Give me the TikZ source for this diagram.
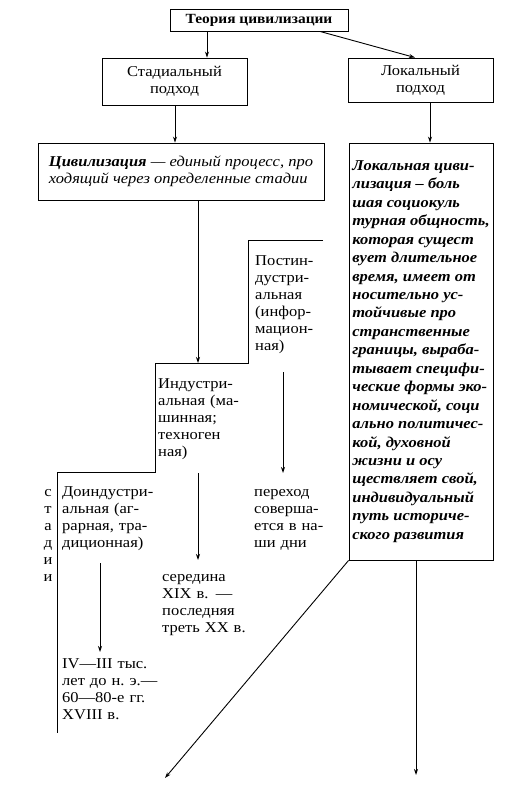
\documentclass[tikz,border=0pt]{standalone}
\usepackage{fontspec}
\setmainfont[FakeStretch=1.1]{Liberation Serif}
\usetikzlibrary{arrows.meta}

\newlength{\du}
\setlength{\du}{10\unitlength}

\tikzset{
  dbox/.style={draw=dialinecolor, line width=0.09\du, inner sep=0pt, align=center, font=\fontsize{15}{17}\selectfont},
  dtext/.style={anchor=base west, inner sep=0pt, text width=11\du, align=left, font=\fontsize{15}{17}\selectfont},
  dline/.style={draw=dialinecolor, line width=0.09\du},
  darrow/.style={dline, -{Stealth[length=6pt, width=4pt]}}
}

\begin{document}
\begin{tikzpicture}
\pgftransformxscale{1.000000}
\pgftransformyscale{-1.000000}
\definecolor{dialinecolor}{rgb}{0.000000, 0.000000, 0.000000}
\pgfsetstrokecolor{dialinecolor}
\useasboundingbox (0.000000\du,0.000000\du) rectangle (50.500000\du,79.000000\du);
\fill[white] (0.000000\du,0.000000\du) rectangle (50.500000\du,79.000000\du);
% boxes
\node[dbox, minimum width=17.8\du, minimum height=2.2\du, font=\fontsize{14}{16}\selectfont\bfseries] (theory) at (25.900000\du,2.000000\du){Теория цивилизации};
\node[dbox, minimum width=14.5\du, minimum height=4.7\du] (stadial) at (17.450000\du,8.150000\du){Стадиальный\\подход};
\node[dbox, minimum width=14.5\du, minimum height=4.4\du] (local) at (42.050000\du,8.000000\du){Локальный\\подход};
\node[dbox, minimum width=28.6\du, minimum height=5.7\du, align=left, font=\fontsize{15}{16.5}\selectfont\itshape] (civ) at (18.100000\du,17.150000\du){\textbf{Цивилизация} — единый процесс, про\\ходящий через определенные стадии};
\node[dbox, minimum width=14.4\du, minimum height=41.7\du, align=left, font=\fontsize{15}{18.45}\selectfont\bfseries\itshape] (lciv) at (42.100000\du,35.150000\du){Локальная циви-\\лизация – боль\\шая социокуль\\турная общность,\\которая сущест\\вует длительное\\время, имеет от\\носительно ус-\\тойчивые про\\странственные\\границы, выраба-\\тывает специфи-\\ческие формы эко-\\номической, соци\\ально политичес-\\кой, духовной\\жизни и осу\\ществляет свой,\\индивидуальный\\путь историче-\\ского развития};
% stages
\coordinate (s1) at (32.300000\du,24.000000\du);
\coordinate (s2) at (24.800000\du,24.000000\du);
\coordinate (s3) at (24.800000\du,36.300000\du);
\coordinate (s4) at (15.500000\du,36.300000\du);
\coordinate (s5) at (15.500000\du,47.200000\du);
\coordinate (s6) at (5.700000\du,47.200000\du);
\coordinate (s7) at (5.700000\du,73.300000\du);
\draw[dline] (s1)--(s2)--(s3)--(s4)--(s5)--(s6)--(s7);
\node[dtext] (postind) at (25.500000\du,26.550000\du){Постин-\\дустри-\\альная\\(инфор-\\мацион-\\ная)};
\node[dtext] (ind) at (15.800000\du,38.850000\du){Индустри-\\альная (ма-\\шинная;\\техноген\\ная)};
\node[dtext] (preind) at (6.200000\du,49.650000\du){Доиндустри-\\альная (аг-\\рарная, тра-\\диционная)};
\node[dtext, anchor=base, text width=1\du, align=center] (stadii) at (4.800000\du,49.650000\du){с\\т\\а\\д\\и\\и};
\node[dtext] (date3) at (25.400000\du,49.650000\du){переход\\соверша-\\ется в на-\\ши дни};
\node[dtext] (date2) at (16.200000\du,58.150000\du){середина\\XIX в. —\\последняя\\треть XX в.};
\node[dtext] (date1) at (6.200000\du,66.850000\du){IV—III тыс.\\лет до н.~э.—\\60—80-е гг.\\XVIII в.};
% arrow ends
\coordinate (civend) at (19.800000\du,36.300000\du);
\coordinate (p6s) at (28.300000\du,37.200000\du);
\coordinate (p6e) at (28.300000\du,47.300000\du);
\coordinate (p7s) at (19.800000\du,47.300000\du);
\coordinate (p7e) at (19.800000\du,56.000000\du);
\coordinate (p8s) at (10.000000\du,56.300000\du);
\coordinate (p8e) at (10.000000\du,65.200000\du);
\coordinate (tip9) at (16.500000\du,77.800000\du);
\coordinate (tip10) at (41.600000\du,77.500000\du);
% arrows
\draw[darrow] ([xshift=-5.2\du]theory.south)--([xshift=3.25\du]stadial.north);
\draw[darrow] ([xshift=6.1\du]theory.south)--([xshift=-0.55\du]local.north);
\draw[darrow] ([xshift=0.05\du]stadial.south)--([xshift=-0.6\du]civ.north);
\draw[darrow] ([xshift=0.95\du]local.south)--([xshift=0.9\du]lciv.north);
\draw[darrow] ([xshift=1.7\du]civ.south)--(civend);
\draw[darrow] (p6s)--(p6e);
\draw[darrow] (p7s)--(p7e);
\draw[darrow] (p8s)--(p8e);
\draw[darrow] (lciv.south west)--(tip9);
\draw[darrow] ([xshift=-0.5\du]lciv.south)--(tip10);
\end{tikzpicture}
\end{document}
